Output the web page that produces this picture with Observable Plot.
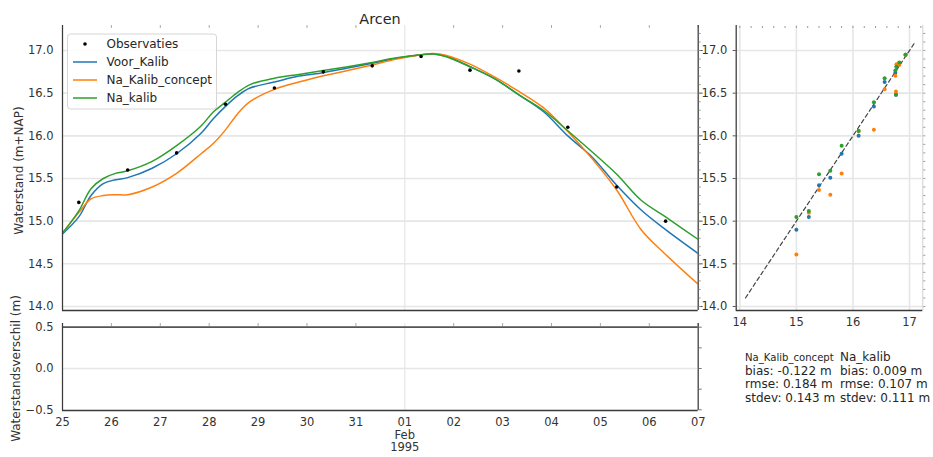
<!DOCTYPE html>
<html><head><meta charset="utf-8">
<script src="https://cdn.jsdelivr.net/npm/d3@7"></script>
<script src="https://cdn.jsdelivr.net/npm/@observablehq/plot@0.6"></script>
<style>
body{margin:0;background:#fff;font-family:"DejaVu Sans",sans-serif;}
#root{position:relative;width:933px;height:457px;overflow:hidden;background:#fff;}
#root > svg, #root > div{position:absolute;}
</style></head><body><div id="root"></div>
<script>
// ---------- data ----------
const times = ["1995-01-25 00:00","1995-01-25 08:00","1995-01-25 14:00","1995-01-25 20:00","1995-01-26 02:00","1995-01-26 08:00","1995-01-26 20:00","1995-01-27 08:00","1995-01-27 20:00","1995-01-28 02:00","1995-01-28 08:00","1995-01-28 14:00","1995-01-28 20:00","1995-01-29 08:00","1995-01-29 20:00","1995-01-30 08:00","1995-01-30 20:00","1995-01-31 08:00","1995-01-31 20:00","1995-02-01 08:00","1995-02-01 14:00","1995-02-01 20:00","1995-02-02 08:00","1995-02-02 20:00","1995-02-03 08:00","1995-02-03 20:00","1995-02-04 08:00","1995-02-04 20:00","1995-02-05 08:00","1995-02-05 20:00","1995-02-06 08:00","1995-02-07 00:00"];
const voorKalib      = [14.85,15.05,15.30,15.44,15.485,15.51,15.62,15.79,16.03,16.20,16.345,16.47,16.56,16.63,16.70,16.74,16.795,16.85,16.91,16.95,16.96,16.935,16.81,16.67,16.48,16.285,16.00,15.75,15.42,15.13,14.90,14.62];
const naKalibConcept = [14.86,15.10,15.26,15.30,15.31,15.31,15.40,15.56,15.79,15.91,16.07,16.26,16.40,16.545,16.63,16.705,16.765,16.83,16.90,16.95,16.965,16.945,16.84,16.69,16.52,16.33,16.05,15.73,15.365,14.90,14.61,14.26];
const naKalib        = [14.86,15.12,15.38,15.50,15.56,15.59,15.70,15.885,16.115,16.28,16.395,16.51,16.60,16.675,16.72,16.765,16.81,16.86,16.915,16.95,16.96,16.93,16.81,16.67,16.48,16.30,16.06,15.81,15.55,15.245,15.05,14.785];
const obsTimes  = ["1995-01-25 08:00","1995-01-26 08:00","1995-01-27 08:00","1995-01-28 08:00","1995-01-29 08:00","1995-01-30 08:00","1995-01-31 08:00","1995-02-01 08:00","1995-02-02 08:00","1995-02-03 08:00","1995-02-04 08:00","1995-02-05 08:00","1995-02-06 08:00"];
const obsValues = [15.22,15.60,15.80,16.37,16.56,16.75,16.82,16.93,16.77,16.76,16.10,15.40,15.00];
const seriesNames  = ["Voor_Kalib","Na_Kalib_concept","Na_kalib"];
const seriesColors = ["#1f77b4","#ff7f0e","#2ca02c"];
const obsName = "Observaties";
const title = "Arcen";
const yLabelMain = "Waterstand (m+NAP)";
const yLabelDiff = "Waterstandsverschil (m)";
const xStart = "1995-01-25 00:00", xEnd = "1995-02-07 00:00";
const majorDate = "1995-02-01 00:00";
const majorDateLabel = ["01","Feb","1995"];
const waterTicks = [14.0,14.5,15.0,15.5,16.0,16.5,17.0];
const diffTicks = [-0.5,0.0,0.5];
const diffMinorTicks = [-0.5,-0.25,0,0.25,0.5];
const scatterTicks = [14,15,16,17];
const diagonal = [14.1,17.1];
const statsHeaders = ["Na_Kalib_concept","Na_kalib"];
const statsBias  = ["-0.122","0.009"];
const statsRmse  = ["0.184","0.107"];
const statsStdev = ["0.143","0.111"];

// ---------- build ----------
const parse = d3.utcParse("%Y-%m-%d %H:%M");
const start = parse(xStart), end = parse(xEnd), major = parse(majorDate);
const allSeries = [voorKalib, naKalibConcept, naKalib];
const rows = [];
seriesNames.forEach((name,i)=>times.forEach((t,j)=>rows.push({date:parse(t),value:allSeries[i][j],series:name})));
const obs = obsTimes.map((t,i)=>({date:parse(t),value:obsValues[i]}));
const scatterRows = [];
seriesNames.forEach((name,i)=>obsTimes.forEach((t,k)=>{
  const j = times.indexOf(t);
  scatterRows.push({obs:obsValues[k], model:allSeries[i][j], series:name});
}));
const days = d3.utcDay.range(start, d3.utcDay.offset(end,1));
const minorDays = days.filter(d=>+d!==+major);
const yDomain = [13.953,17.293];
const xDomain = [start,end];
const grid = "#e6e6e6", spine = "#3a3a3a", tickCol = "#555";
const font = {background:"transparent", fontFamily:"DejaVu Sans", fontSize:"11.5px", color:"#333", overflow:"visible"};
const colorScale = {domain:seriesNames, range:seriesColors};
const fmt1 = d3.format(".1f");
const minorWater = d3.range(140,173).map(v=>v/10);
const root = document.getElementById("root");
function place(el,left,top){el.style.left=left+"px";el.style.top=top+"px";root.appendChild(el);}

// main panel
const main = Plot.plot({
  width:700, height:320, marginLeft:62, marginRight:2.3, marginTop:25, marginBottom:10,
  style:font,
  x:{type:"utc", domain:xDomain, axis:null},
  y:{domain:yDomain, axis:null},
  color:colorScale,
  marks:[
    Plot.ruleY(waterTicks,{stroke:grid,strokeWidth:1.6}),
    Plot.ruleX([major],{stroke:grid,strokeWidth:1.2}),
    Plot.ruleX(minorDays,{stroke:"#aaa",strokeWidth:1,insetBottom:282}),
    Plot.line(rows,{x:"date",y:"value",z:"series",stroke:"series",strokeWidth:1.5,curve:"catmull-rom",clip:true}),
    Plot.dot(obs,{x:"date",y:"value",r:1.8,fill:"black",stroke:null}),
    Plot.ruleX([start,end],{stroke:spine,strokeWidth:1.25}),
    Plot.ruleY([yDomain[0]],{stroke:spine,strokeWidth:1.6}),
    Plot.axisY(waterTicks,{anchor:"left",tickSize:0,tickPadding:9,tickFormat:fmt1,label:null}),
    Plot.axisY(waterTicks,{anchor:"right",tickSize:4,tickFormat:()=>"",label:null,stroke:tickCol}),
    Plot.axisY(minorWater,{anchor:"right",tickSize:2,tickFormat:()=>"",label:null,stroke:"#999"})
  ]
});
place(main,0,0);

// difference panel
const diff = Plot.plot({
  width:700, height:147, marginLeft:62, marginRight:2.3, marginTop:13, marginBottom:47,
  style:font,
  x:{type:"utc", domain:xDomain, axis:null},
  y:{domain:[-0.508,0.545], axis:null},
  marks:[
    Plot.ruleY([0],{stroke:grid,strokeWidth:1.6}),
    Plot.ruleX([major],{stroke:grid,strokeWidth:1.2}),
    Plot.ruleX(minorDays,{stroke:"#aaa",strokeWidth:1,insetBottom:84}),
    Plot.ruleY([0.5],{stroke:"#555",strokeWidth:1.8}),
    Plot.ruleX([start,end],{stroke:spine,strokeWidth:1.25}),
    Plot.ruleY([-0.508],{stroke:spine,strokeWidth:1.6}),
    Plot.axisY(diffTicks,{anchor:"left",tickSize:0,tickPadding:9,tickFormat:d=>fmt1(d).replace("-","\u2212"),label:null}),
    Plot.axisY(diffMinorTicks,{anchor:"right",tickSize:3,tickFormat:()=>"",label:null,stroke:"#777"}),
    Plot.axisX(days,{anchor:"bottom",tickSize:0,tickPadding:6,lineHeight:1.12,label:null,
      tickFormat:d=> +d===+major ? majorDateLabel.join("\n") : d3.utcFormat("%d")(d)})
  ]
});
place(diff,0,310);

// scatter panel
const scatter = Plot.plot({
  width:233, height:335, marginLeft:35.7, marginRight:10.7, marginTop:25, marginBottom:25,
  style:font,
  x:{domain:[13.936,17.235], axis:null},
  y:{domain:yDomain, axis:null},
  color:colorScale,
  marks:[
    Plot.ruleY(waterTicks,{stroke:grid,strokeWidth:1.6}),
    Plot.ruleX(scatterTicks,{stroke:grid,strokeWidth:1.6}),
    Plot.ruleX([17.235],{stroke:"#cfcfcf",strokeWidth:1}),
    Plot.line(diagonal,{x:d=>d,y:d=>d,stroke:"#444",strokeWidth:1.2,strokeDasharray:"4,3"}),
    Plot.dot(scatterRows,{x:"obs",y:"model",fill:"series",r:2,stroke:null}),
    Plot.ruleX([13.936],{stroke:spine,strokeWidth:1.25}),
    Plot.ruleY([yDomain[0]],{stroke:spine,strokeWidth:1.6}),
    Plot.axisY(waterTicks,{anchor:"left",tickSize:3,tickPadding:6,tickFormat:fmt1,label:null,stroke:tickCol}),
    Plot.axisY(minorWater,{anchor:"right",tickSize:2,tickFormat:()=>"",label:null,stroke:"#999"}),
    Plot.axisX(d3.range(70,87).map(v=>v/5),{anchor:"top",tickSize:-2,tickFormat:()=>"",label:null,stroke:"#999"}),
    Plot.axisX(scatterTicks,{anchor:"bottom",tickSize:0,tickPadding:7,tickFormat:d=>String(d),label:null})
  ]
});
place(scatter,700,0);

// text overlay
const svg = d3.create("svg").attr("width",933).attr("height",457)
  .style("font-family","DejaVu Sans").style("pointer-events","none");
svg.append("text").attr("x",380).attr("y",23.5).attr("text-anchor","middle")
  .attr("font-size",14.4).attr("fill","#262626").text(title);
svg.append("text").attr("transform","translate(22.5,170.5) rotate(-90)").attr("text-anchor","middle")
  .attr("font-size",12).attr("fill","#333").text(yLabelMain);
svg.append("text").attr("transform","translate(19.5,368.5) rotate(-90)").attr("text-anchor","middle")
  .attr("font-size",12).attr("fill","#333").text(yLabelDiff);
const statCols = [745,840];
statCols.forEach((x,i)=>{
  const lines = [statsHeaders[i],`bias: ${statsBias[i]} m`,`rmse: ${statsRmse[i]} m`,`stdev: ${statsStdev[i]} m`];
  lines.forEach((s,k)=>{
    svg.append("text").attr("x",x).attr("y",361+k*13.6)
      .attr("font-size",(i===0 && k===0) ? 10.1 : 12).attr("fill","#262626").text(s);
  });
});
// legend
const lg = svg.append("g");
lg.append("rect").attr("x",67.5).attr("y",34).attr("width",149).attr("height",75).attr("rx",3)
  .attr("fill","rgba(255,255,255,0.85)").attr("stroke","#d6d6d6");
const legendItems = [{name:obsName,type:"dot",color:"black"}].concat(seriesNames.map((n,i)=>({name:n,type:"line",color:seriesColors[i]})));
legendItems.forEach((it,k)=>{
  const y = 44+k*18;
  if(it.type==="dot") lg.append("circle").attr("cx",85).attr("cy",y).attr("r",1.8).attr("fill",it.color);
  else lg.append("line").attr("x1",73).attr("x2",97).attr("y1",y).attr("y2",y).attr("stroke",it.color).attr("stroke-width",1.5);
  lg.append("text").attr("x",106.5).attr("y",y+4.3).attr("font-size",12).attr("fill","#262626").text(it.name);
});
const ov = svg.node(); ov.style.left="0px"; ov.style.top="0px"; root.appendChild(ov);
</script></body></html>
